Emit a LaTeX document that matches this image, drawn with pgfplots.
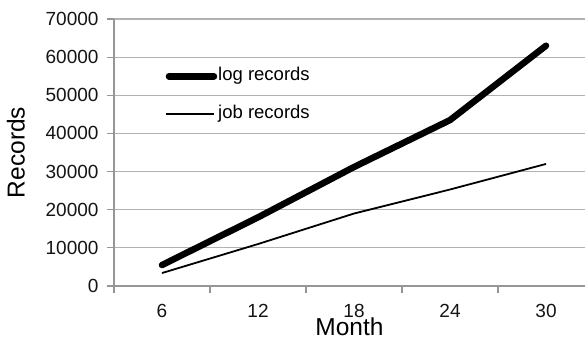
\documentclass[border=0pt]{standalone}
\usepackage{pgfplots}
\pgfplotsset{compat=1.18}
\usepackage{fontspec}
\setmainfont{Liberation Sans}
\definecolor{gridgray}{RGB}{178,178,178}
\definecolor{axgray}{RGB}{150,150,150}
\definecolor{txt}{RGB}{20,20,20}
\begin{document}
\begin{tikzpicture}
\begin{axis}[
  name=ax,
  scale only axis,
  width=471pt, height=267pt,
  xmin=0.5, xmax=5.406,
  ymin=0, ymax=70000,
  axis x line=bottom, axis y line=left,
  axis line style={axgray, line width=1.2pt, -},
  xtick={1,2,3,4,5},
  xticklabels={6,12,18,24,30},
  minor xtick={0.5,1.5,2.5,3.5,4.5},
  major x tick style={draw=none},
  minor x tick style={axgray, line width=1.2pt},
  ytick={0,10000,...,70000},
  y tick style={axgray, line width=1.2pt},
  tick align=outside,
  major tick length=7pt,
  minor tick length=7pt,
  scaled y ticks=false,
  yticklabel style={/pgf/number format/fixed, /pgf/number format/1000 sep={}, xshift=-5pt},
  xticklabel style={yshift=-8pt},
  /pgf/number format/assume math mode=true,
  ymajorgrids,
  grid style={gridgray, line width=1.1pt},
  tick label style={font=\fontsize{19}{22}\selectfont, text=txt},
  xlabel={Month}, ylabel={Records},
  label style={font=\fontsize{24.5}{29}\selectfont, text=black},
  xlabel style={yshift=7pt},
  ylabel style={yshift=14pt},
  legend style={draw=none, fill=none, at={(axis description cs:0.108,0.818)}, anchor=north west,
     font=\fontsize{18.5}{22}\selectfont, row sep=21pt, inner sep=0pt,
     nodes={inner sep=1pt, text height=12pt, text depth=3pt}},
  legend cell align=left,
  clip=true,
]
\addplot[black, line width=6.5pt, line cap=round, line join=round,
  legend image code/.code={\draw[black, line width=6.5pt, line cap=round] (3pt,0pt) -- (48pt,0pt);}]
  coordinates {(1,5500) (2,18000) (3,31200) (4,43500) (5,63000)};
\addlegendentry{log records}
\addplot[black, line width=1.8pt, line join=round,
  legend image code/.code={\draw[black, line width=1.8pt] (0pt,0pt) -- (48pt,0pt);}]
  coordinates {(1,3400) (2,11000) (3,19000) (4,25300) (5,32000)};
\addlegendentry{job records}
\end{axis}
\pgfresetboundingbox
\path[use as bounding box] ([xshift=-114pt,yshift=-54pt]ax.south west) rectangle ++(585pt,340pt);
\end{tikzpicture}
\end{document}
